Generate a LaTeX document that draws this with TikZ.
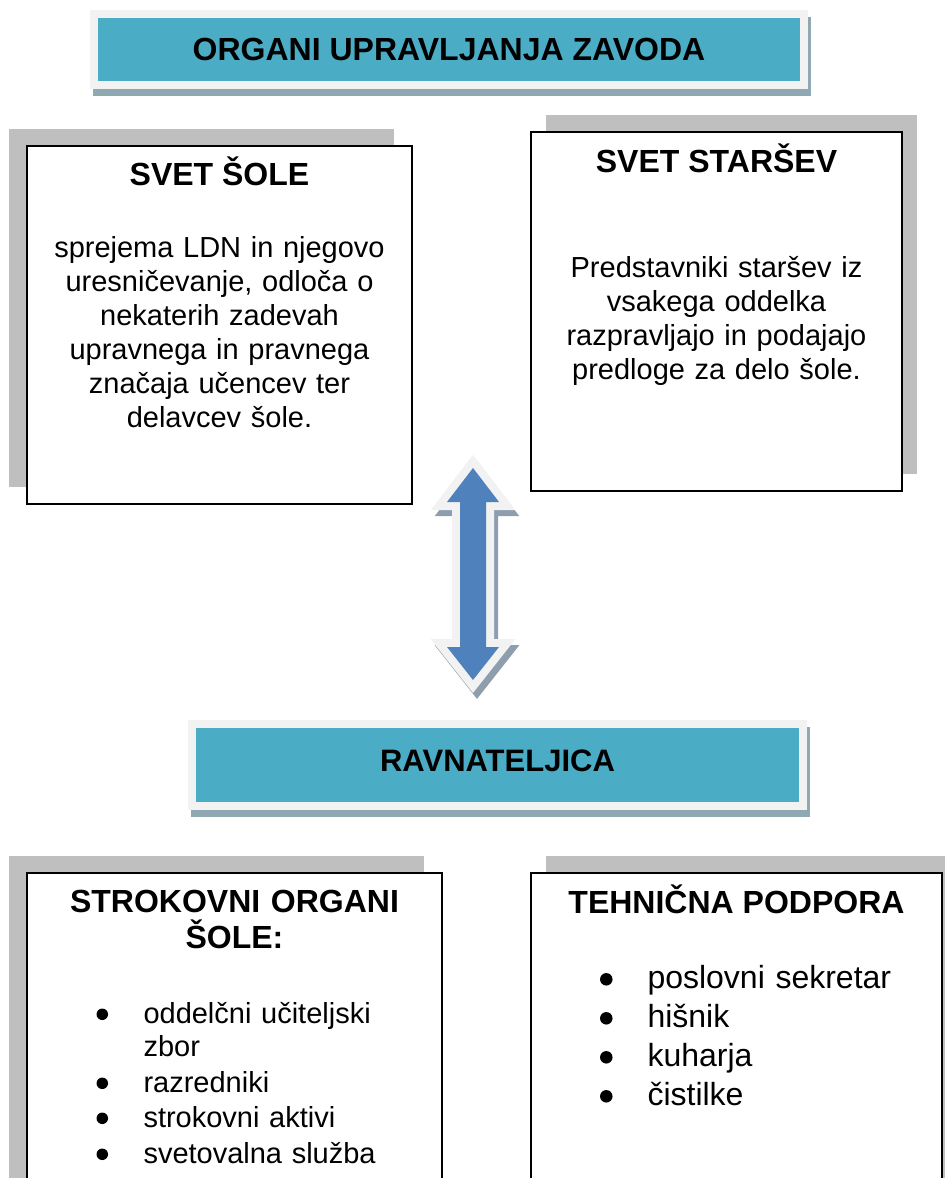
\documentclass[tikz,border=0pt]{standalone}
\usepackage{fontspec}
\setmainfont{Liberation Sans}
\usetikzlibrary{shadows,calc}
\definecolor{bannerblue}{HTML}{4BACC6}
\definecolor{banneredge}{HTML}{F2F2F2}
\definecolor{bannershade}{HTML}{8FA8B2}
\definecolor{boxshade}{HTML}{BFBFBF}
\definecolor{arrowblue}{HTML}{4F81BD}
\definecolor{arrowshade}{HTML}{8E9EAF}
\begin{document}
\begin{tikzpicture}[x=1pt,y=-1pt,line join=miter]
		\tikzset{banner/.style={draw=banneredge,fill=bannerblue,line width=8pt,inner sep=0pt,
				text height=23pt,text depth=2pt,font=\bfseries\fontsize{32}{38}\selectfont,
				general shadow={fill=bannershade,draw=bannershade,line width=8pt,shadow xshift=3pt,shadow yshift=-7pt}},
			card/.style={draw,line width=1.4pt,fill=white,inner sep=0pt,
				general shadow={fill=boxshade,shadow xshift=#1,shadow yshift=17pt}},
			head/.style={font=\bfseries\fontsize{32}{36}\selectfont,align=center,inner sep=0pt},
			body/.style={font=\fontsize{29}{34}\selectfont,align=center,inner sep=0pt},
			entry/.style={align=left,inner sep=0pt,text width=#1,anchor=base west},
			bulletdot/.style={circle,fill,inner sep=0pt,minimum size=11.5pt},
			arrow rim/.style={draw=banneredge,fill=banneredge,line width=16pt},
			arrow shadow/.style={draw=arrowshade,fill=arrowshade,line width=16pt,shift={(4,6)}},
			arrow core/.style={fill=arrowblue}}
		\useasboundingbox (0,0) rectangle (945,1178);
		\clip (0,0) rectangle (945,1178);
		\node[card=-18pt,minimum width=385pt,minimum height=358pt] (sole) at (219.5,325) {};
		\node[card=15pt,minimum width=371pt,minimum height=359pt] (starsi) at (716.5,311.5) {};
		\node[card=-18pt,minimum width=415pt,minimum height=327pt] (organi) at (234.5,1036.5) {};
		\node[card=15pt,minimum width=411pt,minimum height=327pt] (podpora) at (736.5,1036.5) {};
		\node[head,anchor=base] (soleT) at ($(sole.north)+(0,40)$) {SVET ŠOLE};
		\node[body,anchor=base,text width=380pt] (soleB) at ($(sole.north)+(0,112)$) {sprejema LDN in njegovo\\uresničevanje, odloča o\\nekaterih zadevah\\upravnega in pravnega\\značaja učencev ter\\delavcev šole.};
		\node[head,anchor=base] (starsiT) at ($(starsi.north)+(0,41)$) {SVET STARŠEV};
		\node[body,anchor=base,text width=366pt] (starsiB) at ($(starsi.north)+(0,146)$) {Predstavniki staršev iz\\vsakega oddelka\\razpravljajo in podajajo\\predloge za delo šole.};
		\node[head,anchor=base,text width=410pt] (organiT) at ($(organi.north)+(0,40)$) {STROKOVNI ORGANI\\ŠOLE:};
		\node[head,anchor=base] (podporaT) at ($(podpora.north)+(0,41)$) {TEHNIČNA PODPORA};
		\foreach \t/\y [count=\i] in {{oddelčni učiteljski\\zbor}/151,razredniki/220,strokovni aktivi/255,svetovalna služba/291}{
			\node[bulletdot] (od\i) at ($(organi.north west)+(76,\y-9)$) {};
			\node[entry=290pt,font=\fontsize{29}{33}\selectfont] (ot\i) at ($(organi.north west)+(117,\y)$) {\t};
		}
		\foreach \t/\y [count=\i] in {poslovni sekretar/116,hišnik/155,kuharja/194,čistilke/233}{
			\node[bulletdot,minimum size=12.5pt] (pd\i) at ($(podpora.north west)+(76,\y-9)$) {};
			\node[entry=280pt,font=\fontsize{32}{39}\selectfont] (pt\i) at ($(podpora.north west)+(117,\y)$) {\t};
		}
		\coordinate (mid) at (473,574);
		\begin{scope}[shift={(mid)}]
		\foreach \s in {arrow shadow,arrow rim,arrow core}
		\path[\s] (0,-106)--(26,-72)--(13,-72)--(13,73)--(26,73)--(0,106)--(-26,73)--(-13,73)--(-13,-72)--(-26,-72)--cycle;
		\end{scope}
		\node[banner,minimum width=710pt,minimum height=71pt] (zavod) at (449,49.5) {ORGANI UPRAVLJANJA ZAVODA};
		\node[banner,minimum width=611pt,minimum height=82pt,text depth=11pt,font=\bfseries\fontsize{31}{36}\selectfont] (ravnatelj) at (497.5,765) {RAVNATELJICA};
		
		\end{tikzpicture}
\end{document}
